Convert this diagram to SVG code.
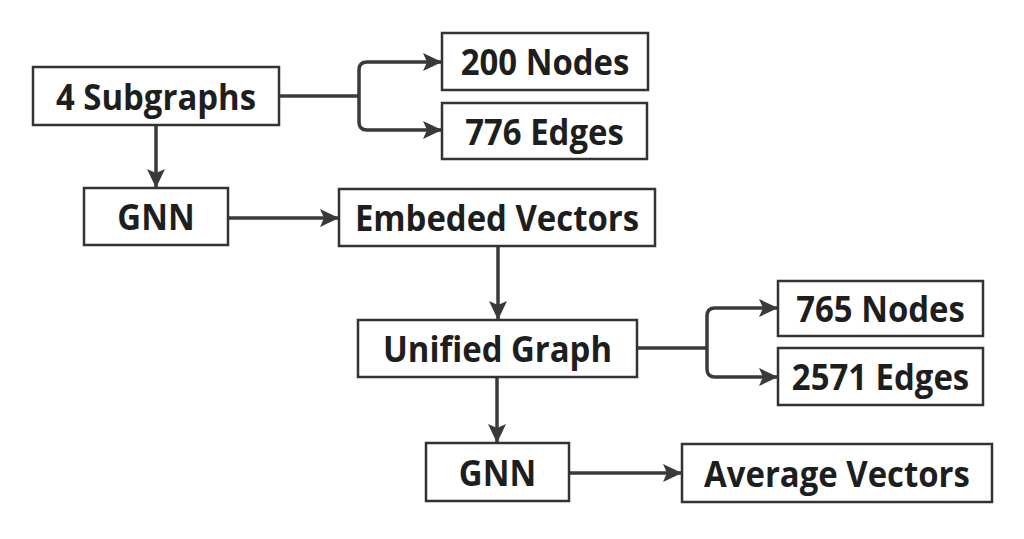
<svg xmlns="http://www.w3.org/2000/svg" width="1024" height="539" viewBox="0 0 1024 539">
<style>
.box{fill:#fff;stroke:#333;stroke-width:2.5}
.lbl{font-family:"Open Sans","Liberation Sans",sans-serif;font-weight:700;font-size:35px;fill:#1e1e1e;text-anchor:middle}
.con{fill:none;stroke:#3a3a3a;stroke-width:3.5}
</style>
<defs>
<marker id="arr" markerUnits="userSpaceOnUse" markerWidth="20" markerHeight="20" refX="18" refY="10" orient="auto" viewBox="0 0 20 20">
<path d="M0,1 L19,10 L0,19 L4,10 z" fill="#3a3a3a"/>
</marker>
</defs>
<rect width="1024" height="539" fill="#fff"/>
<g id="connectors">
<path class="con" d="M156,126 V187" marker-end="url(#arr)"/>
<path class="con" d="M229,218 H338" marker-end="url(#arr)"/>
<path class="con" d="M280,96 H359"/>
<path class="con" d="M359,96 V70 Q359,62 367,62 H441" marker-end="url(#arr)"/>
<path class="con" d="M359,96 V122 Q359,130 367,130 H441" marker-end="url(#arr)"/>
<path class="con" d="M498,247 V319" marker-end="url(#arr)"/>
<path class="con" d="M638,348 H707"/>
<path class="con" d="M707,348 V316 Q707,308 715,308 H777" marker-end="url(#arr)"/>
<path class="con" d="M707,348 V369 Q707,377 715,377 H777" marker-end="url(#arr)"/>
<path class="con" d="M497,378 V442" marker-end="url(#arr)"/>
<path class="con" d="M570,473 H681" marker-end="url(#arr)"/>
</g>
<g id="n-subgraphs"><rect class="box" x="33" y="67" width="246" height="58"/><text class="lbl" transform="translate(156,109.5) scale(0.94,1)">4 Subgraphs</text></g>
<g id="n-200nodes"><rect class="box" x="442" y="33" width="206" height="57"/><text class="lbl" transform="translate(545,75) scale(0.94,1)">200 Nodes</text></g>
<g id="n-776edges"><rect class="box" x="442" y="103" width="205" height="56"/><text class="lbl" transform="translate(544.5,144.5) scale(0.94,1)">776 Edges</text></g>
<g id="n-gnn1"><rect class="box" x="84" y="188" width="144" height="57"/><text class="lbl" transform="translate(156,230) scale(0.94,1)">GNN</text></g>
<g id="n-embeded"><rect class="box" x="339" y="189" width="316" height="57"/><text class="lbl" transform="translate(497,231) scale(0.94,1)">Embeded Vectors</text></g>
<g id="n-unified"><rect class="box" x="358" y="320" width="279" height="57"/><text class="lbl" transform="translate(497.5,362) scale(0.94,1)">Unified Graph</text></g>
<g id="n-765nodes"><rect class="box" x="778" y="281" width="205" height="55"/><text class="lbl" transform="translate(880.5,322) scale(0.94,1)">765 Nodes</text></g>
<g id="n-2571edges"><rect class="box" x="778" y="348" width="205" height="57"/><text class="lbl" transform="translate(880.5,390) scale(0.94,1)">2571 Edges</text></g>
<g id="n-gnn2"><rect class="box" x="426" y="443" width="143" height="58"/><text class="lbl" transform="translate(497.5,485.5) scale(0.94,1)">GNN</text></g>
<g id="n-average"><rect class="box" x="682" y="444" width="310" height="58"/><text class="lbl" transform="translate(837,486.5) scale(0.94,1)">Average Vectors</text></g>
</svg>
